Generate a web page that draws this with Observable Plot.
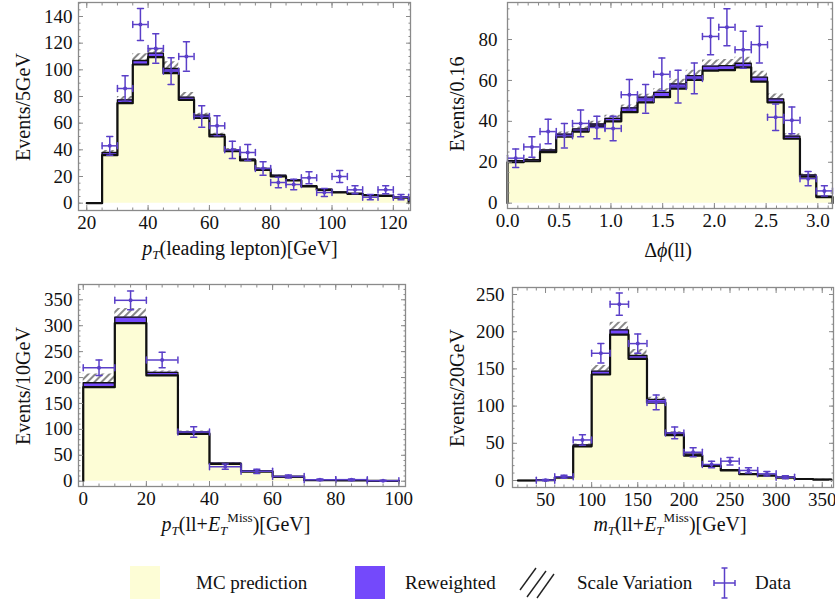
<!DOCTYPE html>
<html><head><meta charset="utf-8">
<script src="https://cdn.jsdelivr.net/npm/d3@7"></script>
<script src="https://cdn.jsdelivr.net/npm/@observablehq/plot@0.6"></script>
<style>
body{margin:0;background:#fff;font-family:"Liberation Serif","Times New Roman",serif;}
#root{position:relative;width:835px;height:607px;overflow:hidden;background:#fff;}
.panel{position:absolute;}
.lab{position:absolute;white-space:nowrap;font-size:20px;color:#111;transform:translate(-50%,-50%);line-height:1;}
.ylab{position:absolute;white-space:nowrap;font-size:20px;color:#111;transform:translate(-50%,-50%) rotate(-90deg);line-height:1;}
.lab sub{font-size:13px;vertical-align:-4px;}
.lab sup{font-size:13px;vertical-align:9px;}
.leg{position:absolute;font-size:19px;color:#111;white-space:nowrap;line-height:1;transform:translateY(-50%);}
.sw{position:absolute;}
</style></head><body><div id="root"></div>
<script>
// ---------- Panel 1: pT(leading lepton), 5 GeV bins ----------
const ptLepEdges = [20,25,30,35,40,45,50,55,60,65,70,75,80,85,90,95,100,105,110,115,120,125];
const ptLepMC = [0,36,75,104,109.5,97.5,77.5,64,50,39,32,25,20,17,12.5,10,8,7,6,5.5,4.2];
const ptLepRW = [0,38,77.5,107,112.5,101,79.5,66,51.5,40,33,26,21,17.5,13.2,10.5,8.4,7.4,6.3,5.9,4.6];
const ptLepUp = [0,39.5,80,112,116,106,83,67.5,52.5,41,33.5,26.5,21.3,17.7,13.4,10.6,8.5,7.5,6.4,6,4.7];
const ptLepDataX = [27.5,32.5,37.5,42.5,47.5,52.5,57.5,62.5,67.5,72.5,77.5,82.5,87.5,92.5,97.5,102.5,107.5,112.5,117.5,122.5];
const ptLepData = [43,86,134,116,99,110,65,58,40,38,26,15.5,14,19,8,20,10,4.5,10,4.5];
const ptLepErr = [7,9.5,12,11,10,11,8,7.5,6.5,6,5,4,4,4.5,3,4.5,3,2,3,2];

// ---------- Panel 2: Delta phi(ll), pi/20 bins ----------
const dphiEdges = [0,0.157,0.314,0.471,0.628,0.785,0.942,1.100,1.257,1.414,1.571,1.728,1.885,2.042,2.199,2.356,2.513,2.670,2.827,2.985,3.142];
const dphiMC = [20,20.5,25,32.5,35,37.5,40,44.5,49.3,51.8,56,60.3,64.8,65,66.4,59.4,49.3,31.5,13,3];
const dphiRW = [20.8,21.3,26,33.8,36.3,38.7,41.5,46.6,51.8,54.2,58.3,62.4,67,67.2,68.4,61.6,51,32.8,13.8,3.4];
const dphiUp = [21,21.8,26.5,34.8,37.3,40,43,48,53.3,55.9,60.6,65,70,70.2,71.3,64.5,53.4,34,14.3,3.5];
const dphiDataX = [0.079,0.236,0.393,0.550,0.707,0.864,1.021,1.178,1.335,1.492,1.649,1.806,1.963,2.121,2.278,2.435,2.592,2.749,2.906,3.063];
const dphiData = [22,27.5,35,33,39,37,36.5,53,51,63,57,61,81.5,86,75,77.5,42,40.5,12,6];
const dphiErr = [4.5,5,6,6,6.5,5.5,6,7.5,7,8,8,7.5,9,9,9,9,6.5,6.5,3.5,2.5];

// ---------- Panel 3: pT(ll+ETmiss), 10 GeV bins ----------
const ptLLEdges = [0,10,20,30,40,50,60,70,80,90,100];
const ptLLMC = [181.5,305,204,91.5,33.5,18.5,8.5,2,1.5,0.5];
const ptLLRW = [190,316.5,210,95,35,20,9.5,2.5,2,0.7];
const ptLLUp = [207,333,212.5,97,36,20.5,9.8,2.6,2.1,0.8];
const ptLLDataX = [5,15,25,35,45,55,65,75,85,95];
const ptLLData = [219,349,234,95,28,19,9,3,3,1];
const ptLLErr = [15,18,15,10,5,4,3,1.5,1.5,1];

// ---------- Panel 4: mT(ll+ETmiss), 20 GeV bins ----------
const mtEdges = [20,40,60,80,100,120,140,160,180,200,220,240,260,280,300,320,340,360];
const mtMC = [0,0.4,4,46,142.5,196,163.5,104.5,61,33.5,19.5,13.5,8.5,6.5,4,2,1.2];
const mtRW = [0,0.5,4.8,48,147,202.5,168,109,64,35.5,21,14.5,9.3,7,4.5,2.4,1.5];
const mtUp = [0,0.5,5,49,154.5,212.8,176,112,65.5,36.5,21.5,14.8,9.5,7.2,4.6,2.5,1.6];
const mtDataX = [50,70,90,110,130,150,170,190,210,230,250,270,290,310];
const mtData = [0.5,5,54.5,171,237,184,105,64,38,21.5,26,13.5,9,4.5];
const mtErr = [0.7,2,7,13,15,13,10,8,6,4.5,5,3.5,3,2];

// ---------- Tick labels ----------
const ptLepXTicks = [20,40,60,80,100,120];
const ptLepYTicks = [0,20,40,60,80,100,120,140];
const dphiXTicks = [0,0.5,1,1.5,2,2.5,3];
const dphiYTicks = [0,20,40,60,80];
const ptLLXTicks = [0,20,40,60,80,100];
const ptLLYTicks = [0,50,100,150,200,250,300,350];
const mtXTicks = [50,100,150,200,250,300,350];
const mtYTicks = [0,50,100,150,200,250];

const COL_MC = "#fdfdd6", COL_RW = "#7449fb", COL_DATA = "#5a3fc8", COL_FRAME = "#8a8a8a";
const FONT = "'Liberation Serif', 'Times New Roman', serif";
const root = document.getElementById("root");

const capShape = {draw(ctx, l) { ctx.moveTo(0, 0); ctx.lineTo(0, -l); }};

function minors(lo, hi, step) { const out = []; for (let v = lo; v <= hi + 1e-9; v = +(v + step).toFixed(6)) out.push(v); return out; }

function panel(cfg) {
  const {edges, mc, rw, up, dx, dv, de, xDomain, yDomain, xTicks, yTicks, xMinor, yMinor, xFmt, left, top, width, height, margin, id, yPad = 5} = cfg;
  const n = mc.length;
  const band = edges.map((e, i) => { const k = Math.min(i, n - 1); return {x: e, mc: mc[k], rw: rw[k], up: up[k]}; });
  const stepLine = (vals) => [{x: edges[0], y: 0}, ...edges.slice(0, n).map((e, i) => ({x: e, y: vals[i]})), {x: edges[n], y: vals[n - 1]}, {x: edges[n], y: 0}];
  const hw = (edges[1] - edges[0]) / 2;
  const pts = dx.map((c, i) => ({c, v: dv[i], e: de[i], lo: c - hw, hi: c + hw}));
  const tickStyle = {stroke: COL_FRAME, tickFormat: () => "", strokeWidth: 1};
  const chart = Plot.plot({
    width, height,
    marginLeft: margin[0], marginRight: margin[1], marginTop: margin[2], marginBottom: margin[3],
    x: {domain: xDomain, label: null},
    y: {domain: yDomain, label: null},
    style: {fontFamily: FONT, background: "transparent", overflow: "visible"},
    marks: [
      Plot.areaY(band, {x: "x", y: "mc", curve: "step-after", fill: COL_MC}),
      Plot.areaY(band, {x: "x", y1: "rw", y2: "up", curve: "step-after", fill: `url(#hatch${id})`}),
      Plot.areaY(band, {x: "x", y1: "mc", y2: "rw", curve: "step-after", fill: COL_RW}),
      Plot.line(stepLine(rw), {x: "x", y: "y", curve: "step-after", stroke: "#111", strokeWidth: 1.3}),
      Plot.line(stepLine(mc), {x: "x", y: "y", curve: "step-after", stroke: "#111", strokeWidth: 2.2}),
      Plot.ruleX(pts, {x: "c", y1: d => d.v - d.e, y2: d => d.v + d.e, stroke: COL_DATA, strokeWidth: 1.5}),
      Plot.ruleY(pts, {y: "v", x1: "lo", x2: "hi", stroke: COL_DATA, strokeWidth: 1.5}),
      Plot.vector(pts, {x: "c", y: d => d.v + d.e, length: 6, rotate: 90, anchor: "middle", shape: capShape, stroke: COL_DATA, strokeWidth: 1.5}),
      Plot.vector(pts, {x: "c", y: d => d.v - d.e, length: 6, rotate: 90, anchor: "middle", shape: capShape, stroke: COL_DATA, strokeWidth: 1.5}),
      Plot.vector(pts, {x: "lo", y: "v", length: 6, rotate: 0, anchor: "middle", shape: capShape, stroke: COL_DATA, strokeWidth: 1.5}),
      Plot.vector(pts, {x: "hi", y: "v", length: 6, rotate: 0, anchor: "middle", shape: capShape, stroke: COL_DATA, strokeWidth: 1.5}),
      Plot.dot(pts, {x: "c", y: "v", r: 2, fill: COL_DATA}),
      Plot.frame({stroke: COL_FRAME, strokeWidth: 1.3}),
      Plot.axisX({anchor: "bottom", ticks: xTicks, tickSize: -5, ...tickStyle}),
      Plot.axisX({anchor: "bottom", ticks: xMinor, tickSize: -2.5, ...tickStyle}),
      Plot.axisX({anchor: "top", ticks: xTicks, tickSize: -5, ...tickStyle}),
      Plot.axisX({anchor: "top", ticks: xMinor, tickSize: -2.5, ...tickStyle}),
      Plot.axisY({anchor: "left", ticks: yTicks, tickSize: -5, ...tickStyle}),
      Plot.axisY({anchor: "left", ticks: yMinor, tickSize: -2.5, ...tickStyle}),
      Plot.axisY({anchor: "right", ticks: yTicks, tickSize: -5, ...tickStyle}),
      Plot.axisY({anchor: "right", ticks: yMinor, tickSize: -2.5, ...tickStyle}),
      Plot.axisX({anchor: "bottom", ticks: xTicks, tickSize: 0, tickPadding: 5, tickFormat: xFmt, fontSize: 19, fill: "#111"}),
      Plot.axisY({anchor: "left", ticks: yTicks, tickSize: 0, tickPadding: yPad, tickFormat: d => String(d), fontSize: 19, fill: "#111"})
    ]
  });
  d3.select(chart).insert("defs", ":first-child").html(
    `<pattern id="hatch${id}" patternUnits="userSpaceOnUse" width="5" height="5" patternTransform="rotate(45)"><rect width="5" height="5" fill="#fff"/><line x1="1" y1="0" x2="1" y2="5" stroke="#555" stroke-width="1.4"/></pattern>`);
  chart.classList.add("panel");
  chart.style.left = left + "px";
  chart.style.top = top + "px";
  root.appendChild(chart);
}

panel({id: 1, edges: ptLepEdges, mc: ptLepMC, rw: ptLepRW, up: ptLepUp, dx: ptLepDataX, dv: ptLepData, de: ptLepErr,
  xDomain: [17.3, 125.6], yDomain: [-5.5, 150.5], xTicks: ptLepXTicks, yTicks: ptLepYTicks,
  xMinor: minors(20, 125, 5), yMinor: minors(0, 150, 5), xFmt: d => String(d),
  left: 0, top: 0, width: 420, height: 270, margin: [78, 10, 2, 60], yPad: 6});
panel({id: 2, edges: dphiEdges, mc: dphiMC, rw: dphiRW, up: dphiUp, dx: dphiDataX, dv: dphiData, de: dphiErr,
  xDomain: [0, 3.1416], yDomain: [-2.6, 98.1], xTicks: dphiXTicks, yTicks: dphiYTicks,
  xMinor: minors(0, 3.1, 0.1), yMinor: minors(0, 95, 5), xFmt: d3.format(".1f"),
  left: 415, top: 0, width: 420, height: 270, margin: [92, 3, 2, 62], yPad: 10});
panel({id: 3, edges: ptLLEdges, mc: ptLLMC, rw: ptLLRW, up: ptLLUp, dx: ptLLDataX, dv: ptLLData, de: ptLLErr,
  xDomain: [-1.5, 102.1], yDomain: [-10.2, 379.5], xTicks: ptLLXTicks, yTicks: ptLLYTicks,
  xMinor: minors(0, 100, 5), yMinor: minors(0, 370, 10), xFmt: d => String(d),
  left: 0, top: 270, width: 420, height: 260, margin: [78, 15, 14, 44], yPad: 6});
panel({id: 4, edges: mtEdges, mc: mtMC, rw: mtRW, up: mtUp, dx: mtDataX, dv: mtData, de: mtErr,
  xDomain: [14.2, 362.2], yDomain: [-9.4, 259.4], xTicks: mtXTicks, yTicks: mtYTicks,
  xMinor: minors(20, 360, 10), yMinor: minors(0, 250, 10), xFmt: d => String(d),
  left: 415, top: 270, width: 420, height: 260, margin: [97, 2, 17, 43], yPad: 8});

// ---------- Axis titles ----------
function addText(cls, html, x, y) { const d = document.createElement("div"); d.className = cls; d.innerHTML = html; d.style.left = x + "px"; d.style.top = y + "px"; root.appendChild(d); return d; }
addText("lab", "<i>p</i><sub><i>T</i></sub>(leading lepton)[GeV]", 240, 249);
addText("lab", "Δ<i>ϕ</i>(ll)", 668, 250);
addText("lab", "<i>p</i><sub><i>T</i></sub>(ll+<i>E</i><sub><i>T</i></sub><sup>Miss</sup>)[GeV]", 236, 524);
addText("lab", "<i>m</i><sub><i>T</i></sub>(ll+<i>E</i><sub><i>T</i></sub><sup>Miss</sup>)[GeV]", 670, 524);
addText("ylab", "Events/5GeV", 23, 107);
addText("ylab", "Events/0.16", 457, 104);
addText("ylab", "Events/10GeV", 23, 386);
addText("ylab", "Events/20GeV", 457, 388);

// ---------- Legend ----------
const legendLabels = ["MC prediction", "Reweighted", "Scale Variation", "Data"];
function sw(x, y, w, h, bg) { const d = document.createElement("div"); d.className = "sw"; Object.assign(d.style, {left: x + "px", top: y + "px", width: w + "px", height: h + "px", background: bg}); root.appendChild(d); }
sw(130, 566, 30, 33, COL_MC);
sw(355, 566, 30, 33, COL_RW);
const lsvg = d3.select(root).append("svg").attr("width", 835).attr("height", 607).style("position", "absolute").style("left", 0).style("top", 0).style("pointer-events", "none");
[[520, 590, 536, 568], [527, 597, 546, 571], [537, 598, 554, 574]].forEach(([x1, y1, x2, y2]) => lsvg.append("line").attr("x1", x1).attr("y1", y1).attr("x2", x2).attr("y2", y2).attr("stroke", "#222").attr("stroke-width", 1.4));
const lg = lsvg.append("g").attr("stroke", COL_DATA).attr("stroke-width", 1.5);
lg.append("line").attr("x1", 724.5).attr("x2", 724.5).attr("y1", 568).attr("y2", 598);
lg.append("line").attr("x1", 714).attr("x2", 735).attr("y1", 583).attr("y2", 583);
lg.append("line").attr("x1", 721.5).attr("x2", 727.5).attr("y1", 568).attr("y2", 568);
lg.append("line").attr("x1", 721.5).attr("x2", 727.5).attr("y1", 598).attr("y2", 598);
lg.append("line").attr("x1", 714).attr("x2", 714).attr("y1", 580).attr("y2", 586);
lg.append("line").attr("x1", 735).attr("x2", 735).attr("y1", 580).attr("y2", 586);
addText("leg", legendLabels[0], 196, 582);
addText("leg", legendLabels[1], 405, 582);
addText("leg", legendLabels[2], 577, 582);
addText("leg", legendLabels[3], 755, 582);
</script></body></html>
